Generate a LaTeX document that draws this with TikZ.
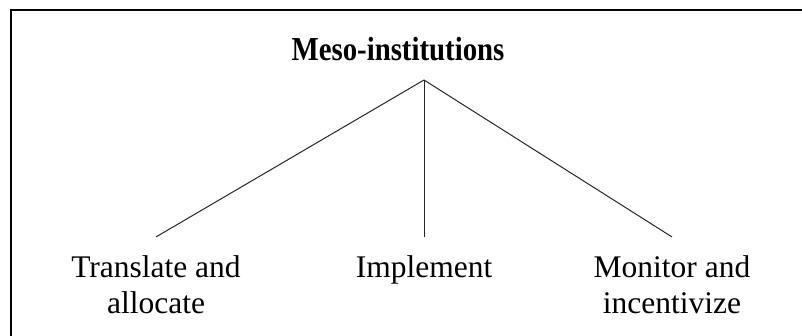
\documentclass[tikz,border=0pt]{standalone}
\usepackage{fontspec}
\setmainfont{Liberation Serif}
\usepackage{tikz}

\tikzset{
  head/.style={anchor=base, font=\fontsize{33.5}{38}\selectfont\bfseries},
  leaf/.style={anchor=base, inner ysep=18pt, align=center, font=\fontsize{31.5}{36}\selectfont},
  branch/.style={black!85, line width=1pt}
}

\begin{document}
\begin{tikzpicture}[x=1pt,y=-1pt]
\useasboundingbox (0,0) rectangle (802,336);
\clip (0,0) rectangle (802,336);
% frame
\draw [black, line width=2pt] (10.5,350) -- (10.5,10.5) -- (820,10.5);
\node [head, xscale=0.86, transform shape] (meso) at (398,61) {Meso-institutions};
\coordinate (top) at (424,80);
\node [leaf] (trans) at (156,313) {Translate and\\allocate};
\node [leaf] (impl) at (424,277) {Implement};
\node [leaf] (mon) at (672,313) {Monitor and\\incentivize};
\draw [branch] (top) -- (trans.north);
\draw [branch] (top) -- (impl.north);
\draw [branch] (top) -- (mon.north);
\end{tikzpicture}
\end{document}
